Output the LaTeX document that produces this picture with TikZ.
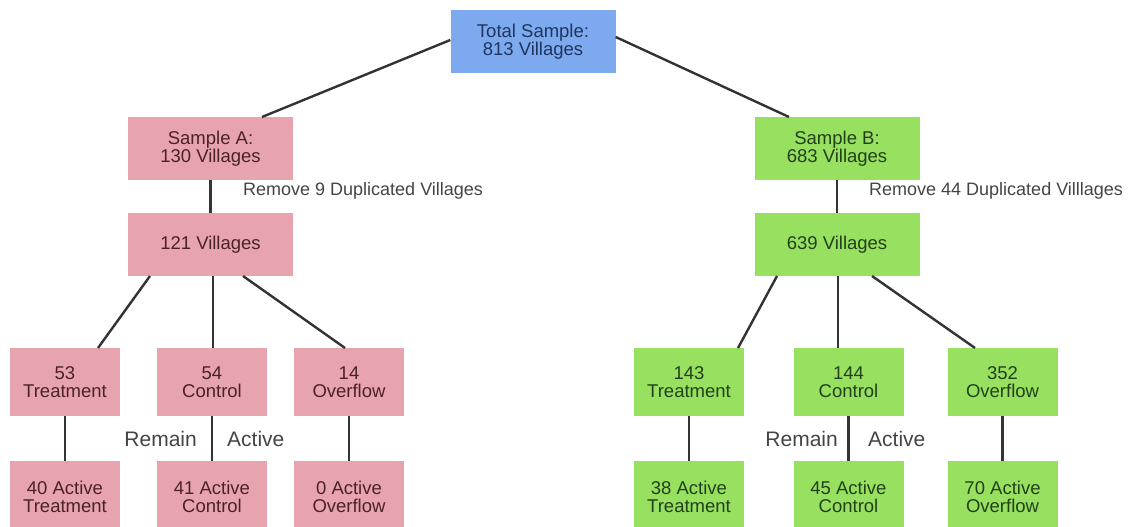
\documentclass[tikz,border=0pt]{standalone}
\usepackage{fontspec}
\setmainfont{Liberation Sans}
\definecolor{bluefill}{HTML}{7DAAEE}
\definecolor{bluetext}{HTML}{1F3560}
\definecolor{pinkfill}{HTML}{E8A4AE}
\definecolor{pinktext}{HTML}{4A2228}
\definecolor{greenfill}{HTML}{98E060}
\definecolor{greentext}{HTML}{22401A}
\definecolor{linecol}{HTML}{333333}
\definecolor{labcol}{HTML}{444444}
\begin{document}
\begin{tikzpicture}[x=1pt,y=-1pt,
  box/.style={rectangle, inner sep=0pt, align=center, font=\fontsize{18.5}{18.5}\selectfont},
  bluebox/.style={box, fill=bluefill, text=bluetext},
  pinkbox/.style={box, fill=pinkfill, text=pinktext},
  greenbox/.style={box, fill=greenfill, text=greentext},
  wide/.style={minimum width=165pt, minimum height=63pt},
  small/.style={minimum width=110pt, minimum height=68pt},
  conn/.style={draw=linecol, line width=2.4pt},
  lab/.style={text=labcol, font=\fontsize{18}{18}\selectfont, inner sep=0pt},
  biglab/.style={text=labcol, font=\fontsize{21}{21}\selectfont, inner sep=0pt}]
\useasboundingbox (0,0) rectangle (1132,527);
\clip (0,0) rectangle (1132,527);
% nodes
\node[bluebox, wide] (tot) at (533,41.5) {Total Sample:\\813 Villages};
\node[pinkbox, wide] (sa) at (210.5,148.5) {Sample A:\\130 Villages};
\node[pinkbox, wide] (a121) at (210.5,244.5) {121 Villages};
\node[greenbox, wide] (sb) at (837,148.5) {Sample B:\\683 Villages};
\node[greenbox, wide] (b639) at (837,244.5) {639 Villages};
\node[pinkbox, small] (at) at (65,382) {53\\Treatment};
\node[pinkbox, small] (ac) at (212,382) {54\\Control};
\node[pinkbox, small] (ao) at (349,382) {14\\Overflow};
\node[pinkbox, small, minimum height=72pt] (aat) at (65,497) {40 Active\\Treatment};
\node[pinkbox, small, minimum height=72pt] (aac) at (212,497) {41 Active\\Control};
\node[pinkbox, small, minimum height=72pt] (aao) at (349,497) {0 Active\\Overflow};
\node[greenbox, small] (bt) at (689,382) {143\\Treatment};
\node[greenbox, small] (bc) at (848.5,382) {144\\Control};
\node[greenbox, small] (bo) at (1002.5,382) {352\\Overflow};
\node[greenbox, small, minimum height=72pt] (bat) at (689,497) {38 Active\\Treatment};
\node[greenbox, small, minimum height=72pt] (bac) at (848.5,497) {45 Active\\Control};
\node[greenbox, small, minimum height=72pt] (bao) at (1002.5,497) {70 Active\\Overflow};
% labels
\node[lab, anchor=west] (ra) at (243,191) {Remove 9 Duplicated Villages};
\node[lab, anchor=west] (rb) at (869,191) {Remove 44 Duplicated Villlages};
\node[biglab, anchor=east] (rema) at (197,439) {Remain};
\node[biglab, anchor=west] (acta) at (227,439) {Active};
\node[biglab, anchor=east] (remb) at (838,439) {Remain};
\node[biglab, anchor=west] (actb) at (868,439) {Active};
% connectors
\draw[conn] (tot.west |- 0,40) -- (262,117);
\draw[conn] (tot.east |- 0,37) -- (789,117);
\draw[conn] (sa) -- (a121);
\draw[conn] (sb) -- (b639);
\draw[conn] (150,276) -- (98,348);
\draw[conn] (213,276) -- (213,348);
\draw[conn] (243,276) -- (345,348);
\draw[conn] (777,276) -- (738,348);
\draw[conn] (838,276) -- (838,348);
\draw[conn] (872,276) -- (975,348);
\draw[conn] (at) -- (aat);
\draw[conn] (ac) -- (aac);
\draw[conn] (ao) -- (aao);
\draw[conn] (bt) -- (bat);
\draw[conn] (bc) -- (bac);
\draw[conn] (bo) -- (bao);
\end{tikzpicture}
\end{document}
